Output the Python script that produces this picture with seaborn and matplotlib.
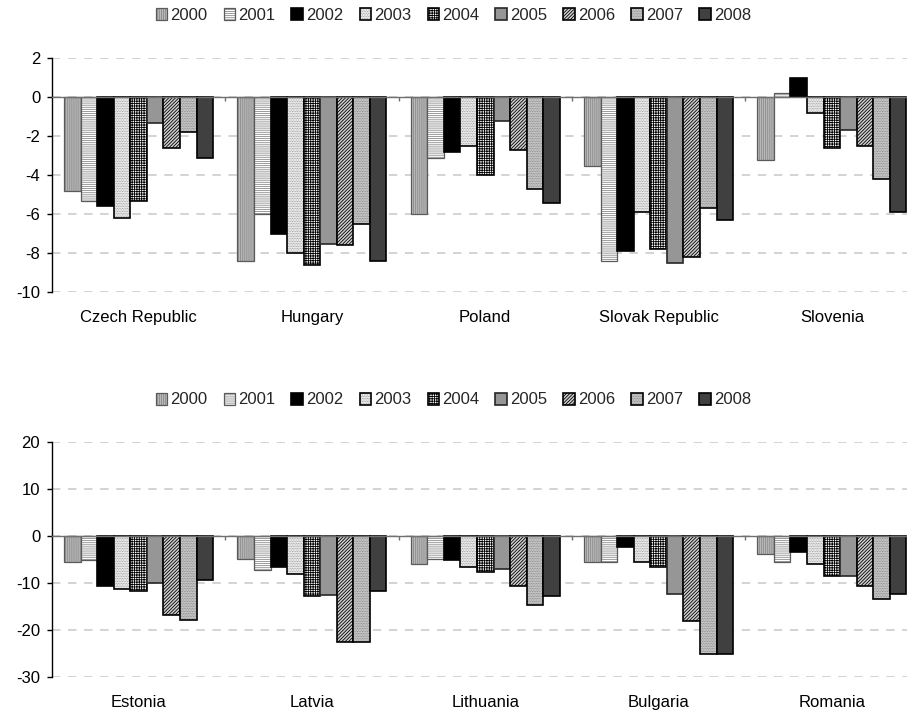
import matplotlib
matplotlib.use("Agg")
import matplotlib.pyplot as plt
import matplotlib.colors as mcolors
import numpy as np
import pandas as pd
import seaborn as sns

# ---- data: current account balance, % of GDP ----
years = ["2000", "2001", "2002", "2003", "2004", "2005", "2006", "2007", "2008"]

top_countries = ["Czech Republic", "Hungary", "Poland", "Slovak Republic", "Slovenia"]
czech = [-4.8, -5.3, -5.6, -6.2, -5.3, -1.3, -2.6, -1.8, -3.1]
hungary = [-8.4, -6.0, -7.0, -8.0, -8.6, -7.5, -7.6, -6.5, -8.4]
poland = [-6.0, -3.1, -2.8, -2.5, -4.0, -1.2, -2.7, -4.7, -5.4]
slovakia = [-3.5, -8.4, -7.9, -5.9, -7.8, -8.5, -8.2, -5.7, -6.3]
slovenia = [-3.2, 0.2, 1.0, -0.8, -2.6, -1.7, -2.5, -4.2, -5.9]

bottom_countries = ["Estonia", "Latvia", "Lithuania", "Bulgaria", "Romania"]
estonia = [-5.5, -5.1, -10.6, -11.3, -11.7, -10.0, -16.7, -17.9, -9.2]
latvia = [-4.8, -7.2, -6.6, -8.1, -12.8, -12.4, -22.4, -22.4, -11.7]
lithuania = [-5.9, -4.8, -5.1, -6.5, -7.7, -7.0, -10.6, -14.6, -12.8]
bulgaria = [-5.5, -5.5, -2.3, -5.5, -6.6, -12.3, -18.1, -25.0, -25.0]
romania = [-3.7, -5.5, -3.3, -5.9, -8.4, -8.4, -10.5, -13.4, -12.2]

top_values = [czech, hungary, poland, slovakia, slovenia]
bottom_values = [estonia, latvia, lithuania, bulgaria, romania]

top_yticks = [2, 0, -2, -4, -6, -8, -10]
bottom_yticks = [20, 10, 0, -10, -20, -30]


def long_table(countries, values):
    rows = []
    for c, vals in zip(countries, values):
        for y, v in zip(years, vals):
            rows.append({"country": c, "year": y, "value": v})
    return pd.DataFrame(rows)


# ---- styling ----
sns.set_style("white")
plt.rcParams["font.family"] = ["Liberation Sans", "DejaVu Sans"]
plt.rcParams["hatch.linewidth"] = 0.6
FS = 12

# per-year bar appearance: face, hatch colour, edge, hatch, edge width
bar_styles = [
    dict(fc="#b9b9b9", hc="#8a8a8a", ec="#5a5a5a", hatch="||||||||", lw=0.9),
    dict(fc="white", hc="#8a8a8a", ec="#5a5a5a", hatch="--------", lw=0.9),
    dict(fc="black", hc="black", ec="black", hatch=None, lw=1.2),
    dict(fc="white", hc="#8a8a8a", ec="black", hatch="..........", lw=1.2),
    dict(fc="white", hc="black", ec="black", hatch="+++++++", lw=1.2),
    dict(fc="#969696", hc="#969696", ec="#262626", hatch=None, lw=1.2),
    dict(fc="#d0d0d0", hc="black", ec="black", hatch="//////////", lw=1.2),
    dict(fc="#d4d4d4", hc="#7a7a7a", ec="black", hatch="..........", lw=1.2),
    dict(fc="#404040", hc="#404040", ec="black", hatch=None, lw=1.2),
]


def style_patch(p, st):
    p.set_facecolor(st["fc"])
    p.set_edgecolor(st["ec"])
    p.set_linewidth(st["lw"])
    if st["hatch"]:
        p.set_hatch(st["hatch"])
        if hasattr(p, "set_hatchcolor"):
            p.set_hatchcolor(st["hc"])
        else:
            p._hatch_color = mcolors.to_rgba(st["hc"])


def draw_panel(ax, countries, values, yticks, legend_y):
    df = long_table(countries, values)
    sns.barplot(data=df, x="country", y="value", hue="year",
                order=countries, hue_order=years,
                width=0.86, gap=0, errorbar=None, legend=False, ax=ax)
    for cont, st in zip(ax.containers, bar_styles):
        for p in cont.patches:
            style_patch(p, st)
            p.set_zorder(2)

    ax.set_xlim(-0.5, len(countries) - 0.5)
    ax.set_ylim(min(yticks), max(yticks))
    ax.set_yticks(yticks)
    ax.set_yticklabels([str(t) for t in yticks], fontsize=FS, color="black")
    ax.set_xlabel("")
    ax.set_ylabel("")

    ax.set_axisbelow(True)
    ax.yaxis.grid(True, color="#c8c8c8", linestyle=(0, (5.5, 5)), linewidth=1.1)
    ax.xaxis.grid(False)

    for s in ("top", "right"):
        ax.spines[s].set_visible(False)
    ax.spines["left"].set_color("black")
    ax.spines["left"].set_linewidth(1.0)
    ax.spines["bottom"].set_position(("data", 0))
    ax.spines["bottom"].set_color("#707070")
    ax.spines["bottom"].set_linewidth(1.0)
    ax.spines["bottom"].set_zorder(3)

    bounds = np.arange(len(countries) - 1) + 0.5
    ax.set_xticks(bounds)
    ax.set_xticklabels([""] * len(bounds))
    ax.tick_params(axis="x", bottom=True, direction="out", length=3,
                   width=1.0, color="#707070")
    ax.tick_params(axis="y", left=True, direction="out", length=3.5,
                   width=1.0, color="black", pad=5)

    for i, name in enumerate(countries):
        ax.annotate(name, xy=(i, 0), xycoords=("data", "axes fraction"),
                    xytext=(0, -25), textcoords="offset pixels",
                    ha="center", va="center", fontsize=FS, color="black")

    fig.legend(handles=ax.containers, labels=years, loc="center",
               bbox_to_anchor=(0.5, legend_y), ncol=len(years), frameon=False,
               fontsize=FS, handlelength=0.7, handleheight=0.7,
               handletextpad=0.2, columnspacing=0.95, borderpad=0)


fig = plt.figure(figsize=(9.07, 7.13), dpi=100)
W, H = 907.0, 713.0
left = 52 / W
width = 866.5 / W

ax_top = fig.add_axes([left, 1 - 292.3 / H, width, 234 / H])
ax_bot = fig.add_axes([left, 1 - 677.3 / H, width, 235 / H])

draw_panel(ax_top, top_countries, top_values, top_yticks, 1 - 15 / H)
draw_panel(ax_bot, bottom_countries, bottom_values, bottom_yticks, 1 - 400 / H)

fig.savefig("out.png", dpi=100, facecolor="white")
